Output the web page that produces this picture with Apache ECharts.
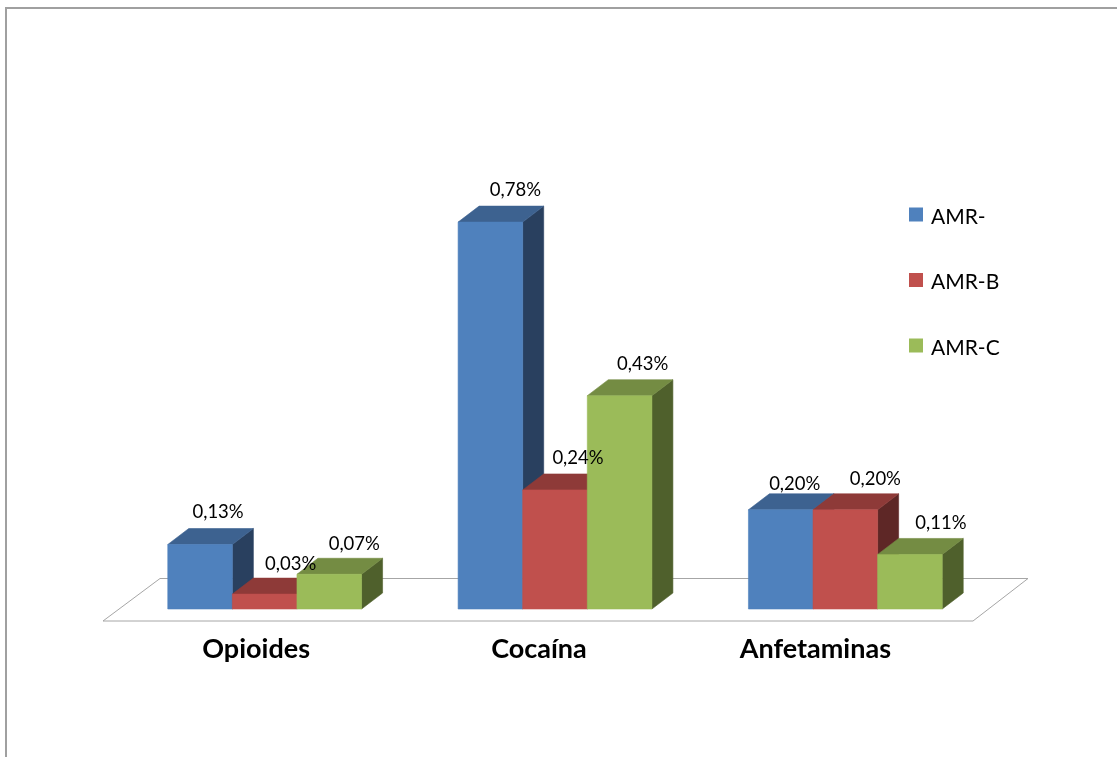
<!DOCTYPE html>
<html>
<head>
<meta charset="utf-8">
<style>html,body{margin:0;padding:0;background:#fff}#c{width:1117px;height:757px}</style>
<script src="https://cdn.jsdelivr.net/npm/echarts@6/dist/echarts.min.js"></script>
</head>
<body>
<div id="c"></div>
<script>
const categories = ['Opioides', 'Cocaína', 'Anfetaminas'];
const seriesNames = ['AMR-', 'AMR-B', 'AMR-C'];
const amrMinus = [0.13, 0.78, 0.20];
const amrB = [0.03, 0.24, 0.20];
const amrC = [0.07, 0.43, 0.11];

const values = [amrMinus, amrB, amrC];
const faces = [
  {front: '#4F81BD', top: '#3D6290', side: '#29405F'},
  {front: '#C0504D', top: '#8E3A38', side: '#5E2726'},
  {front: '#9BBB59', top: '#748C43', side: '#4F602C'}
];
const depthX = 21, depthY = 16;
const FONT = 'Lato, Carlito, "Open Sans", sans-serif';
// label nudges from the top-centre of each bar's front face: [series][category]
const labelNudge = [
  [[18, -32], [25, -32], [14, -26]],
  [[26, -30], [23, -32], [30, -31]],
  [[25, -30], [23, -32], [31, -31]]
];
// right padding of each category label (moves it left of its band centre)
const catLabelPad = [17, 32, 60];

function makeRender(si) {
  return function (params, api) {
    const cat = api.value(0), val = api.value(1);
    const band = api.size([1, 0])[0];
    const w = band * 0.2225;
    const center = api.coord([cat, 0])[0];
    const x0 = center + (si - 1.5) * w, x1 = x0 + w;
    const yBase = api.coord([cat, 0])[1];
    const yTop = api.coord([cat, val])[1];
    const c = faces[si];
    const n = labelNudge[si][cat];
    const poly = (pts, fill, stroke) => ({
      type: 'polygon', z2: si,
      shape: {points: pts},
      style: {fill: fill, stroke: stroke, lineWidth: 0.6}
    });
    return {
      type: 'group',
      children: [
        poly([[x1, yBase], [x1 + depthX, yBase - depthY], [x1 + depthX, yTop - depthY], [x1, yTop]], c.side, c.side),
        poly([[x0, yTop], [x0 + depthX, yTop - depthY], [x1 + depthX, yTop - depthY], [x1, yTop]], c.top, c.top),
        poly([[x0, yBase], [x1, yBase], [x1, yTop], [x0, yTop]], c.front, c.front),
        {
          type: 'text', z2: 100,
          style: {
            x: (x0 + x1) / 2 + n[0], y: yTop + n[1],
            text: val.toFixed(2).replace('.', ',') + '%',
            fill: '#000', font: '18.5px ' + FONT,
            textAlign: 'center', textVerticalAlign: 'middle'
          }
        }
      ]
    };
  };
}

const catRich = {};
categories.forEach((c, i) => {
  catRich['c' + i] = {
    fontFamily: FONT, fontSize: 27, fontWeight: 'bold', color: '#000',
    padding: [0, catLabelPad[i], 0, 0]
  };
});

const chart = echarts.init(document.getElementById('c'), null, {renderer: 'canvas'});
chart.setOption({
  animation: false,
  backgroundColor: '#fff',
  grid: {left: 119.5, right: 126.5, top: 113, bottom: 148},
  legend: {
    orient: 'vertical', left: 909, top: 206.5, padding: 0,
    itemWidth: 14, itemHeight: 14, itemGap: 44.5,
    icon: 'rect',
    data: seriesNames,
    formatter: name => '{t|' + name + '}',
    textStyle: {
      fontFamily: FONT, fontSize: 21, color: '#000',
      rich: {t: {fontFamily: FONT, fontSize: 21, color: '#000', height: 21, padding: [5, 0, 0, 3]}}
    }
  },
  xAxis: {
    type: 'category', data: categories,
    axisLine: {show: false}, axisTick: {show: false}, splitLine: {show: false},
    axisLabel: {
      margin: 27, interval: 0, rich: catRich,
      fontFamily: FONT, fontSize: 27, fontWeight: 'bold', color: '#000',
      formatter: (v, i) => '{c' + i + '|' + v + '}'
    }
  },
  yAxis: {type: 'value', min: 0, max: 1, show: false},
  graphic: [
    {type: 'polygon', z: 0, silent: true,
     shape: {points: [[103, 621], [973, 621], [1028, 578.5], [160, 578.5]]},
     style: {fill: '#fff', stroke: '#a6a6a6', lineWidth: 1}},
    {type: 'polyline', z: 0, silent: true,
     shape: {points: [[6, 757], [6, 8], [1117, 8]]},
     style: {fill: null, stroke: '#a0a0a0', lineWidth: 2}}
  ],
  series: seriesNames.map((name, si) => ({
    name: name,
    type: 'custom',
    coordinateSystem: 'cartesian2d',
    itemStyle: {color: faces[si].front},
    encode: {x: 0, y: 1},
    renderItem: makeRender(si),
    clip: false,
    data: values[si].map((v, i) => [i, v])
  }))
});
</script>
</body>
</html>
